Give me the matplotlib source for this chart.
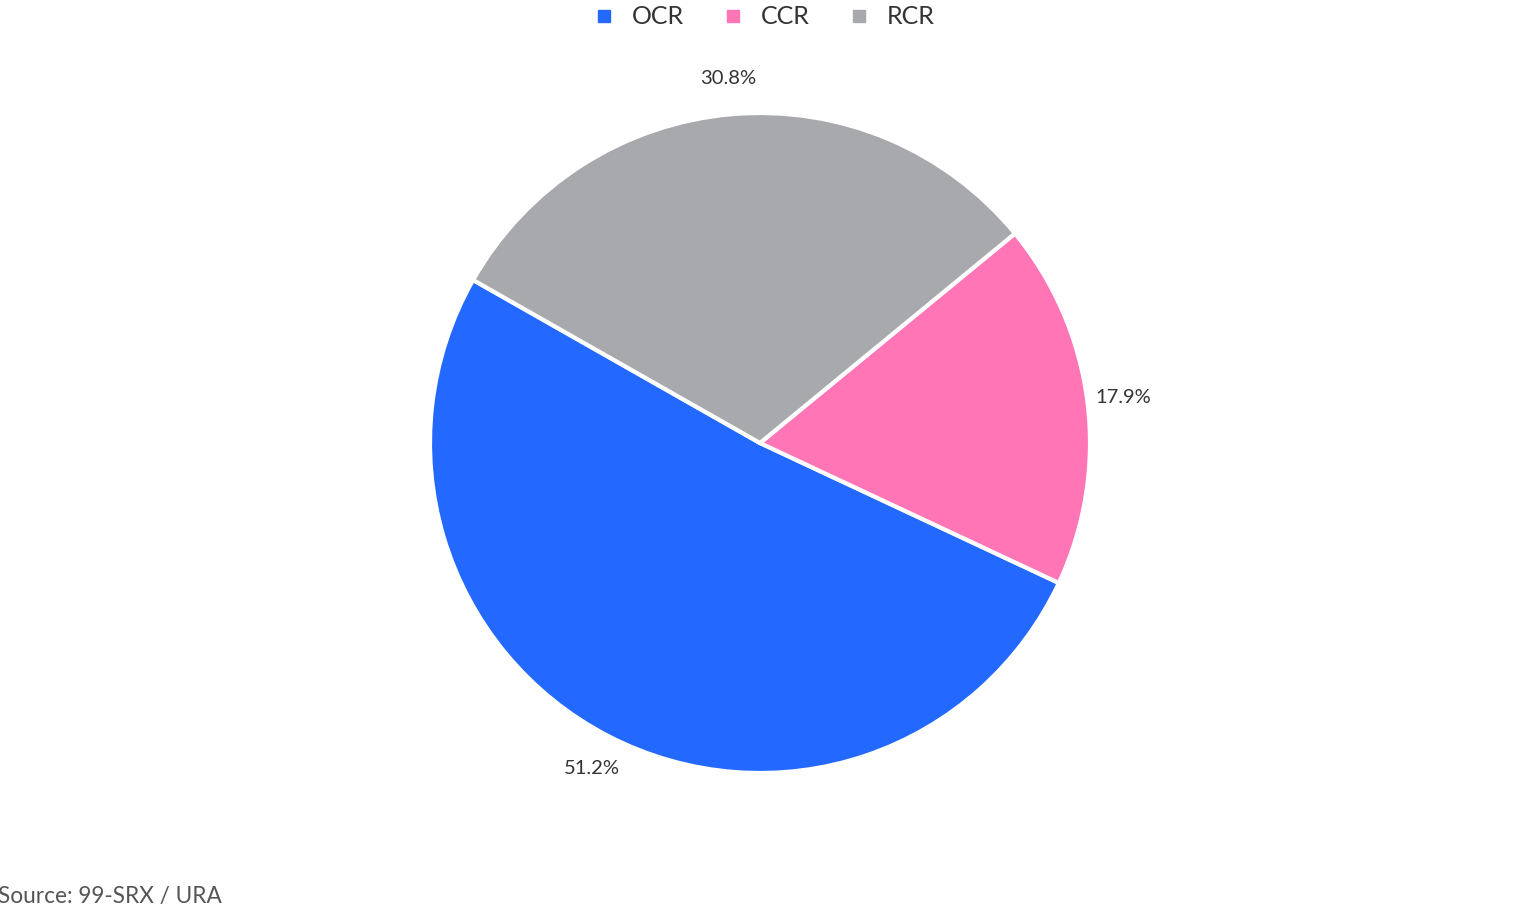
import matplotlib.pyplot as plt
from matplotlib.lines import Line2D

plt.rcParams['font.family'] = ['Lato', 'DejaVu Sans']

# data
labels = ['OCR', 'CCR', 'RCR']
shares = [51.2, 17.9, 30.8]
colors = ['#2369FF', '#FF75B5', '#A8A9AD']
source = 'Source: 99-SRX / URA'

fig = plt.figure(figsize=(15.17, 9.14), dpi=100)
W, H = 1517, 914
cx, cy, r = 760, 443, 330
ax = fig.add_axes([(cx - r) / W, (H - cy - r) / H, 2 * r / W, 2 * r / H])

wedges, texts, autotexts = ax.pie(
    shares, colors=colors, startangle=150.4, counterclock=True,
    autopct='%.1f%%', pctdistance=1.11, radius=1,
    wedgeprops=dict(edgecolor='white', linewidth=3),
    textprops=dict(fontsize=14.5, color='#333333'))
# show the values as given (they don't sum to exactly 100)
for t, v in zip(autotexts, shares):
    t.set_text(f'{v:.1f}%')
ax.set_xlim(-1, 1)
ax.set_ylim(-1, 1)
ax.set_aspect('equal')
ax.axis('off')

handles = [Line2D([], [], marker='s', linestyle='', markersize=8,
                  markerfacecolor=c, markeredgecolor=c) for c in colors]
fig.legend(handles, labels, loc='center', bbox_to_anchor=(763 / W, 1 - 17 / H),
           ncol=3, frameon=False, fontsize=18, handlelength=1.0,
           handletextpad=0.62, columnspacing=1.45, labelcolor='#333333')

fig.text(-2 / W, 1 - 897 / H, source, fontsize=16.3, color='#555555',
         ha='left', va='center')

fig.savefig('out.png', dpi=100)
